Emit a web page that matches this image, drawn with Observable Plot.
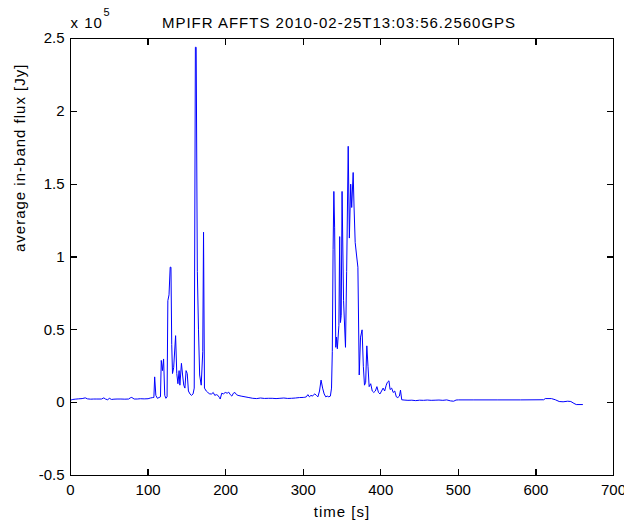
<!DOCTYPE html>
<html><head><meta charset="utf-8">
<script src="https://cdn.jsdelivr.net/npm/d3@7"></script>
<script src="https://cdn.jsdelivr.net/npm/@observablehq/plot@0.6"></script>
<style>
body{margin:0;background:#fff}
</style></head><body><div id="chart"></div><script>
const titleText = "MPIFR AFFTS 2010-02-25T13:03:56.2560GPS";
const xLabel = "time [s]";
const yLabel = "average in-band flux [Jy]";
const scaleText = "x 10";
const scaleExp = "5";
const xTicks = [0, 100, 200, 300, 400, 500, 600, 700];
const yTicks = [-0.5, 0, 0.5, 1, 1.5, 2, 2.5];
// time [s]
const time = [0,3,6,10,15,19,22,26,30,34,40,43,45,48,50,53,56,60,65,70,75,77,79,82,86,90,95,100,103,106,107.5,108.5,110,112,114,116,117,118.5,120,121.5,123,124.5,125.5,127,128.5,129.5,130.5,131.5,133,135.5,137,138.5,140,141,143,144.5,146,147.5,149,150.5,152,154,156,158,159.5,161,162,163.5,165,166.5,168.5,170.5,171.5,172.7,175,177,179.5,182,184,186,188,190,192,193,195,197,199.5,202,204,206,208,210,212,214,216,220,225,230,235,240,245,250,255,260,265,270,275,280,285,290,295,300,302,304,306,308,310,312,313.5,315,317,319,321,323,325,327,329,331,333,335,336.5,337.5,338.5,339.5,340.5,342,343,344,346,347,348,349,350.1,352,354.5,356,358,359.5,361.2,362.5,364.4,365.5,367,369,370.5,372.2,373.9,375.9,377.5,379,380.5,382,383.5,385,387,389,391,393,395,397,399,401,403,405,407,408.5,410.5,412,414,416,418,420,422,424,425.4,427,430,435,440,445,450,455,460,465,470,475,480,485,490,494,497,500,520,550,580,610,612,620,625,630,635,641,645,649,652,660];
// average in-band flux, units of 1e5 Jy
const flux = [0.017,0.022,0.024,0.026,0.028,0.033,0.026,0.024,0.025,0.025,0.025,0.033,0.025,0.020,0.030,0.022,0.024,0.025,0.025,0.024,0.025,0.033,0.036,0.025,0.025,0.027,0.026,0.027,0.032,0.035,0.036,0.177,0.05,0.03,0.035,0.04,0.29,0.22,0.30,0.05,0.03,0.04,0.70,0.74,0.93,0.93,0.40,0.20,0.24,0.46,0.20,0.13,0.22,0.12,0.27,0.19,0.12,0.10,0.22,0.20,0.08,0.06,0.05,0.06,0.10,2.44,2.44,0.90,0.50,0.19,0.12,0.35,1.17,0.10,0.08,0.07,0.06,0.06,0.07,0.05,0.055,0.05,0.035,0.025,0.065,0.06,0.07,0.065,0.072,0.055,0.045,0.065,0.07,0.055,0.05,0.045,0.04,0.035,0.03,0.028,0.032,0.029,0.03,0.03,0.028,0.03,0.032,0.029,0.03,0.032,0.035,0.036,0.037,0.04,0.055,0.04,0.05,0.045,0.055,0.06,0.05,0.04,0.08,0.155,0.10,0.06,0.04,0.045,0.04,0.045,0.10,0.35,1.05,1.45,1.20,0.38,0.45,0.37,0.53,1.14,0.55,0.60,1.45,0.70,0.38,0.90,1.76,1.13,1.50,1.34,1.58,1.35,1.10,1.0,0.93,0.19,0.45,0.50,0.25,0.12,0.14,0.39,0.25,0.11,0.13,0.08,0.07,0.08,0.11,0.07,0.06,0.08,0.10,0.08,0.12,0.14,0.15,0.09,0.10,0.07,0.08,0.04,0.035,0.045,0.086,0.02,0.018,0.016,0.017,0.014,0.017,0.016,0.018,0.016,0.017,0.018,0.016,0.019,0.012,0.010,0.018,0.019,0.019,0.019,0.019,0.020,0.028,0.028,0.020,0.008,0.006,0.010,0.008,-0.005,-0.013,-0.013];
const data = time.map((t, i) => ({t, f: flux[i]}));

const tickStyle = {stroke: "black", strokeWidth: 1.2, length: 6, r: 0, anchor: "start", shapeRendering: "crispEdges"};

const chart = Plot.plot({
  width: 624, height: 522,
  marginLeft: 70, marginRight: 11, marginTop: 38, marginBottom: 47,
  style: {fontFamily: "'Liberation Sans', Arial, sans-serif", fontSize: "15px", background: "#fff", color: "black"},
  x: {domain: [0, 700]},
  y: {domain: [-0.5, 2.5]},
  marks: [
    Plot.line(data, {x: "t", y: "f", stroke: "#0000ff", strokeWidth: 1}),
    Plot.frame({stroke: "black"}),
    // inward ticks on all four sides
    Plot.vector(xTicks, {x: d => d, frameAnchor: "bottom", rotate: 0, ...tickStyle}),
    Plot.vector(xTicks, {x: d => d, frameAnchor: "top", rotate: 180, ...tickStyle}),
    Plot.vector(yTicks, {y: d => d, frameAnchor: "left", rotate: 90, ...tickStyle}),
    Plot.vector(yTicks, {y: d => d, frameAnchor: "right", rotate: 270, ...tickStyle}),
    // tick labels
    Plot.axisX({anchor: "bottom", ticks: xTicks, tickSize: 0, tickPadding: 9, fontSize: 15, tickFormat: d => String(d), label: null}),
    Plot.axisY({anchor: "left", ticks: yTicks, tickSize: 0, tickPadding: 6, fontSize: 15, tickFormat: d => String(d), label: null}),
    Plot.text([titleText], {frameAnchor: "top", dy: -11, dx: -3, lineAnchor: "bottom", fontSize: 15}),
    Plot.text([scaleText], {frameAnchor: "top-left", dy: -11, textAnchor: "start", lineAnchor: "bottom", fontSize: 15}),
    Plot.text([scaleExp], {frameAnchor: "top-left", dx: 33, dy: -23, textAnchor: "start", lineAnchor: "bottom", fontSize: 11}),
    Plot.text([xLabel], {frameAnchor: "bottom", dy: 41, lineAnchor: "bottom", fontSize: 15}),
    Plot.text([yLabel], {frameAnchor: "left", dx: -50, dy: -5, rotate: -90, fontSize: 15})
  ]
});
// MATLAB-like wider letter spacing on title and labels
const spaced = [titleText, xLabel, yLabel, scaleText];
d3.select(chart).selectAll("text")
  .filter(function () { return spaced.includes(this.textContent); })
  .style("letter-spacing", "1px");
document.getElementById("chart").appendChild(chart);
</script></body></html>
